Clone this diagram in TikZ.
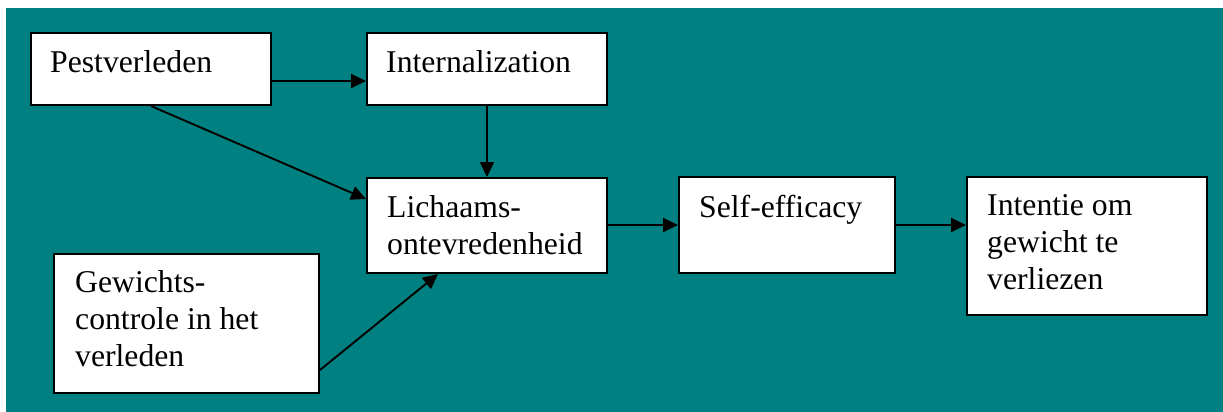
\documentclass[tikz,border=0pt]{standalone}
\usepackage{fontspec}
\setmainfont{Liberation Serif}
\usetikzlibrary{arrows.meta}
\definecolor{panelteal}{RGB}{0,128,128}
% stacked lines whose reference point is the first baseline
\newcommand{\boxlines}[1]{\begin{tabular}[t]{@{}l@{}}#1\end{tabular}}
\begin{document}
\begin{tikzpicture}[x=1pt,y=-1pt,
  box/.style={draw=black, line width=2pt, fill=white, rectangle, inner sep=0pt, anchor=north west},
  boxtext/.style={anchor=base west, inner sep=0pt,
    font=\fontsize{31.7}{37}\selectfont},
  link/.style={draw=black, line width=1.9pt, -{Triangle[length=15pt,width=14pt]}}]
  % canvas and coloured panel
  \useasboundingbox (0,0) rectangle (1223,412);
  \fill[white] (0,0) rectangle (1223,412);
  \fill[panelteal] (6,8) rectangle (1223,412);

  % boxes
  \node[box, minimum width=240pt, minimum height=72pt]  (pest) at (30,32) {};
  \node[box, minimum width=240pt, minimum height=72pt]  (intern) at (366,32) {};
  \node[box, minimum width=240pt, minimum height=95pt]  (licha) at (366,177) {};
  \node[box, minimum width=216pt, minimum height=96pt]  (self) at (678,176) {};
  \node[box, minimum width=240pt, minimum height=138pt] (inten) at (966,176) {};
  \node[box, minimum width=265pt, minimum height=139pt] (gewi) at (53,253) {};

  % box texts
  \node[boxtext] (tpest) at ([xshift=20pt,yshift=-41pt]pest.north west) {Pestverleden};
  \node[boxtext] (tintern) at ([xshift=20pt,yshift=-41pt]intern.north west) {Internalization};
  \node[boxtext] (tlicha) at ([xshift=21pt,yshift=-40pt]licha.north west) {\boxlines{Lichaams-\\ontevredenheid}};
  \node[boxtext] (tself) at ([xshift=21pt,yshift=-41pt]self.north west) {Self-efficacy};
  \node[boxtext] (tinten) at ([xshift=21pt,yshift=-39pt]inten.north west) {\boxlines{Intentie om\\gewicht te\\verliezen}};
  \node[boxtext] (tgewi) at ([xshift=22pt,yshift=-39pt]gewi.north west) {\boxlines{Gewichts-\\controle in het\\verleden}};

  % connectors
  \draw[link] ([yshift=-12pt]pest.east) -- ([yshift=-12pt]intern.west);
  \draw[link] (intern.south) -- (licha.north);
  \draw[link] (pest.south) -- ([yshift=-22pt]licha.north west);
  \draw[link] ([yshift=24pt]gewi.south east) -- ([xshift=-49pt]licha.south);
  \draw[link] ([yshift=0.5pt]licha.east) -- ([yshift=0.5pt]licha.east -| self.west);
  \draw[link] (self.east) -- (self.east -| inten.west);
\end{tikzpicture}
\end{document}
